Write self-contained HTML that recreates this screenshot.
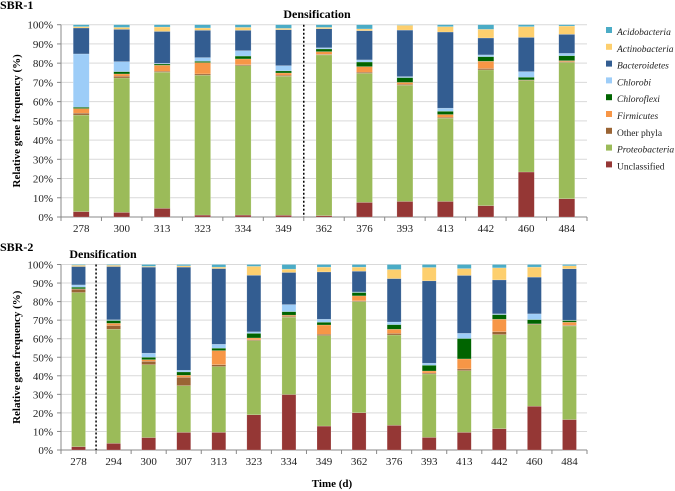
<!DOCTYPE html>
<html><head><meta charset="utf-8"><style>
body{margin:0;background:#fff;}
svg, svg text{font-family:"Liberation Serif","Times New Roman",serif;}
svg{display:block;}
</style></head><body>
<svg id="chart" width="675" height="491" font-family="Liberation Serif, serif"></svg>
<script>
const seriesNames=["Unclassified","Proteobacteria","Other phyla","Firmicutes","Chloroflexi","Chlorobi","Bacteroidetes","Actinobacteria","Acidobacteria"];
const seriesColors=["#953735","#9bbb59","#9a6434","#f79646","#006400","#9dcdf8","#335d91","#fdcf6e","#4bacc6"];
const legendItalic=[false,true,false,true,true,true,true,true,true];
const ticks=["0%","10%","20%","30%","40%","50%","60%","70%","80%","90%","100%"];
const days1=["278","300","313","323","334","349","362","376","393","413","442","460","484"];
const days2=["278","294","300","307","313","323","334","349","362","376","393","413","442","460","484"];
// SBR-1 values per series (bottom to top)
const s1Unclassified=[2.8,2.4,4.5,1,1,0.9,0.7,7.6,8.1,8.1,5.9,23.4,9.5];
const s1Proteobacteria=[50.2,69.9,70.8,72.7,77.7,72.3,83.6,67.1,60.4,43.3,70.6,47.6,70.9];
const s1Other=[1,0.9,0.5,0.7,0.5,0.5,0.3,0.6,0.5,0.5,0.7,0.3,0.4];
const s1Firmicutes=[2.4,1.2,3.1,5.9,3,1.2,1.4,2.9,1,1.4,3.8,0,0.5];
const s1Chloroflexi=[0.7,1.2,0.7,0.7,1.5,1.1,1.4,2.4,2.5,1.7,2.4,1.4,2.6];
const s1Chlorobi=[27.7,5.2,0.3,1.9,2.8,2.7,0.6,1.1,0.5,1.6,0.9,2.9,1.2];
const s1Bacteroidetes=[13.5,16.8,16.6,14.2,10.6,18.7,9.9,15.2,24.2,39.6,8.8,17.8,9.9];
const s1Actinobacteria=[0.7,1.0,2.3,1.2,1.5,0.7,0.7,0.9,2.5,2.8,4.5,5.6,4.3];
const s1Acidobacteria=[1,1.4,1.2,1.7,1.4,1.9,1.4,2.2,0.3,1,2.4,1,0.7];
// SBR-2
const s2Unclassified=[1.8,3.6,6.7,9.5,9.5,19,29.9,12.9,20.1,13.3,6.8,9.5,11.5,23.6,16.4];
const s2Proteobacteria=[83.1,61.5,39.3,25.2,35.5,40,41.7,48.8,59.9,48.7,34.2,33.3,50.7,44,50.5];
const s2Other=[1.8,2,1.8,4.5,1,0.4,0.5,0.7,0.4,0.8,0.5,0.9,1.6,0.4,0.4];
const s2Firmicutes=[0.2,1.2,0.9,1.1,7.6,1,0.6,5,2.7,2.3,1.1,5.4,6.7,0,1.6];
const s2Chloroflexi=[0.9,1.5,1.3,1.8,1.3,2.5,1.9,1.5,1.8,2.5,3.1,11,2.5,2.3,0.9];
const s2Chlorobi=[1.2,0.4,2.2,0.9,2.1,0.8,3.8,1.6,0.3,1.4,1.1,2.8,0.4,3.1,0.2];
const s2Bacteroidetes=[9.9,28.7,46.4,55.6,40.8,30.5,17.3,25.5,11.2,23.4,44.4,31.2,18.3,19.8,27.7];
const s2Actinobacteria=[0.7,0.7,0.4,0.7,0.8,4.8,1.8,2.6,2.2,4.9,7.2,3.7,6.5,5.4,1.6];
const s2Acidobacteria=[0.4,0.4,1,0.7,1.4,1,2.5,1.4,1.4,2.7,1.6,2.2,1.8,1.4,0.7];

const NS="http://www.w3.org/2000/svg";
const svg=document.getElementById('chart');
const FF='"Liberation Serif", serif';
function mk(tag,attrs,parent){const e=document.createElementNS(NS,tag);for(const k in attrs)e.setAttribute(k,attrs[k]);if(tag==='text')e.style.fontFamily=FF;(parent||svg).appendChild(e);return e;}

function panel(id,cats,series,y0,y100,barW,divIdx,title,titleY,densX,densY){
  const left=61,right=587;
  const g=mk('g',{});
  
  
  const yS=v=>y0-(v/100)*(y0-y100);
  const step=(right-left)/cats.length;
  const xC=i=>left+step*(i+0.5);
  const t=mk('text',{x:0,y:titleY,'font-size':12,'font-weight':'bold'},g);t.textContent=title;
  
  ticks.forEach((lb,k)=>{
    const y=yS(k*10);
    if(k>0){const gl=mk('line',{x1:left,x2:right,y1:y,y2:y,stroke:'#d9d9d9','stroke-width':1},g);
      }
    const tx=mk('text',{x:53,y:y+4,'font-size':11,'text-anchor':'end',fill:'#222'},g);tx.textContent=lb;
    
    mk('line',{x1:left-4,x2:left,y1:y,y2:y,stroke:'#888'},g);
  });
  const ax=mk('line',{x1:left,x2:left,y1:y100,y2:y0,stroke:'#888'},g);
  
  const xa=mk('line',{x1:left,x2:right,y1:y0,y2:y0,stroke:'#888'},g);
  
  for(let i=0;i<=cats.length;i++){mk('line',{x1:left+step*i,x2:left+step*i,y1:y0,y2:y0+4,stroke:'#888'},g);}
  const yt=mk('text',{x:0,y:0,'font-size':11,'font-weight':'bold','text-anchor':'middle',transform:`translate(20,${(y0+y100)/2}) rotate(-90)`},g);
  yt.textContent='Relative gene frequency (%)';
  
  cats.forEach((c,i)=>{
    let cum=0;
    series.forEach((arr,s)=>{
      const v=arr[i];
      const yt2=yS(cum+v),yb=yS(cum);
      cum+=v;
      if(v<=0)return;
      const r=mk('rect',{x:xC(i)-barW/2,y:yt2,width:barW,height:yb-yt2,fill:seriesColors[s],stroke:'rgba(255,255,255,0.35)','stroke-width':0.5},g);
      
      
    });
    const lb=mk('text',{x:xC(i),y:y0+15,'font-size':11,'text-anchor':'middle',fill:'#222'},g);lb.textContent=c;
    
  });
  const dx=left+step*divIdx;
  const dl=mk('line',{x1:dx,x2:dx,y1:y100,y2:y0,stroke:'#000','stroke-width':1.5,'stroke-dasharray':'2,2'},g);
  
  const dt=mk('text',{x:densX,y:densY,'font-size':12,'font-weight':'bold','text-anchor':'middle'},g);dt.textContent='Densification';
  
}
panel('sbr1',days1,[s1Unclassified,s1Proteobacteria,s1Other,s1Firmicutes,s1Chloroflexi,s1Chlorobi,s1Bacteroidetes,s1Actinobacteria,s1Acidobacteria],217,24.7,16,6,'SBR-1',9,317,18);
panel('sbr2',days2,[s2Unclassified,s2Proteobacteria,s2Other,s2Firmicutes,s2Chloroflexi,s2Chlorobi,s2Bacteroidetes,s2Actinobacteria,s2Acidobacteria],450,264.5,14,1,'SBR-2',251,103,258);
const lg=mk('g',{});

for(let k=0;k<9;k++){
  const s=8-k;const y=31+k*16.8;
  const e=mk('g',{},lg);
  
  
  mk('rect',{x:606,y:y-4,width:6,height:6,fill:seriesColors[s]},e);
  const tx=mk('text',{x:617,y:y+4,'font-size':9.5,'font-style':legendItalic[s]?'italic':'normal',fill:'#222'},e);
  tx.textContent=seriesNames[s];
}
const xt=mk('text',{x:332,y:487,'font-size':11,'font-weight':'bold','text-anchor':'middle'});
xt.textContent='Time (d)';


</script>
</body></html>
